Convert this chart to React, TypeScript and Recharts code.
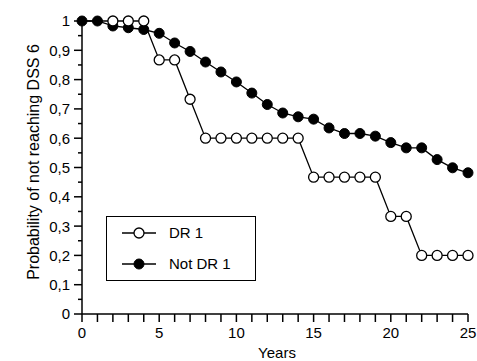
import { LineChart, Line, XAxis, YAxis, Legend } from 'recharts';

const years = [0, 1, 2, 3, 4, 5, 6, 7, 8, 9, 10, 11, 12, 13, 14, 15, 16, 17, 18, 19, 20, 21, 22, 23, 24, 25];
const dr1 = [1, 1, 1, 1, 1, 0.867, 0.867, 0.733, 0.6, 0.6, 0.6, 0.6, 0.6, 0.6, 0.6, 0.467, 0.467, 0.467, 0.467, 0.467, 0.333, 0.333, 0.2, 0.2, 0.2, 0.2];
const notDr1 = [1, 1, 0.983, 0.977, 0.971, 0.958, 0.925, 0.896, 0.86, 0.826, 0.792, 0.754, 0.715, 0.686, 0.673, 0.665, 0.635, 0.616, 0.616, 0.607, 0.585, 0.567, 0.567, 0.527, 0.499, 0.482];
const yTicks = [0, 0.05, 0.1, 0.15, 0.2, 0.25, 0.3, 0.35, 0.4, 0.45, 0.5, 0.55, 0.6, 0.65, 0.7, 0.75, 0.8, 0.85, 0.9, 0.95, 1];
const yLabels = ['0', '0,1', '0,2', '0,3', '0,4', '0,5', '0,6', '0,7', '0,8', '0,9', '1'];

const FONT = '"Liberation Sans", Arial, sans-serif';

const data = years.map((year, i) => ({ year, dr1: dr1[i], notDr1: notDr1[i] }));

function XTick(props: any) {
  const { x, y, payload } = props;
  const v = payload.value;
  return (
    <g>
      <line x1={x} x2={x} y1={y} y2={y + 8} stroke="#000" strokeWidth={1.5} />
      {v % 5 === 0 && (
        <text x={x} y={y + 24} textAnchor="middle" fontSize={15} fontFamily={FONT} fill="#000">
          {v}
        </text>
      )}
    </g>
  );
}

function YTick(props: any) {
  const { x, y, payload } = props;
  const idx = Math.round(payload.value * 20);
  const major = idx % 2 === 0;
  return (
    <g>
      <line x1={x - (major ? 8 : 4)} x2={x} y1={y} y2={y} stroke="#000" strokeWidth={1.5} />
      {major && (
        <text x={x - 12} y={y} dy="0.36em" textAnchor="end" fontSize={15} fontFamily={FONT} fill="#000">
          {yLabels[idx / 2]}
        </text>
      )}
    </g>
  );
}

// first two open circles sit under the filled ones in the original
function OpenDot(props: any) {
  const { cx, cy, index } = props;
  if (index < 2) return <g key={`o${index}`} />;
  return <circle key={`o${index}`} cx={cx} cy={cy} r={5} fill="#fff" stroke="#000" strokeWidth={1.3} />;
}

function LegendBox() {
  return (
    <div style={{ width: 150, height: 65, border: '1.5px solid #000', boxSizing: 'border-box', background: '#fff' }}>
      <svg width={147} height={62} style={{ display: 'block' }}>
        <line x1={15} x2={49} y1={16} y2={16} stroke="#000" strokeWidth={1.3} />
        <circle cx={32} cy={16} r={5} fill="#fff" stroke="#000" strokeWidth={1.3} />
        <text x={62} y={16} dy="0.36em" fontSize={15} fontFamily={FONT} fill="#000">DR 1</text>
        <line x1={15} x2={49} y1={47} y2={47} stroke="#000" strokeWidth={1.3} />
        <circle cx={32} cy={47} r={5} fill="#000" stroke="#000" strokeWidth={1} />
        <text x={62} y={47} dy="0.36em" fontSize={15} fontFamily={FONT} fill="#000">Not DR 1</text>
      </svg>
    </div>
  );
}

export default function App() {
  return (
    <div style={{ position: 'absolute', left: 0, top: 0, background: '#fff' }}>
      <LineChart width={477} height={361} data={data} margin={{ top: 21, right: 9, bottom: 0, left: 0 }}>
        <XAxis
          dataKey="year"
          type="number"
          domain={[0, 25]}
          ticks={years}
          interval={0}
          height={47}
          tickSize={0}
          tickMargin={0}
          tickLine={false}
          axisLine={{ stroke: '#000', strokeWidth: 1.5 }}
          tick={<XTick />}
          label={{
            content: () => (
              <text x={277} y={358} textAnchor="middle" fontSize={15} fontFamily={FONT} fill="#000">
                Years
              </text>
            ),
          }}
        />
        <YAxis
          type="number"
          domain={[0, 1]}
          ticks={yTicks}
          interval={0}
          width={82}
          tickSize={0}
          tickMargin={0}
          tickLine={false}
          axisLine={{ stroke: '#000', strokeWidth: 1.5 }}
          tick={<YTick />}
          label={{
            content: () => (
              <text
                x={39}
                y={162}
                transform="rotate(-90, 39, 162)"
                textAnchor="middle"
                fontSize={16}
                fontFamily={FONT}
                fill="#000"
              >
                Probability of not reaching DSS 6
              </text>
            ),
          }}
        />
        <Legend
          layout="horizontal"
          verticalAlign="middle"
          align="center"
          content={() => <LegendBox />}
          wrapperStyle={{ left: 106, top: 216, width: 150, height: 65 }}
        />
        <Line
          dataKey="notDr1"
          stroke="#000"
          strokeWidth={1.3}
          dot={{ r: 5, fill: '#000', stroke: '#000', strokeWidth: 1 }}
          isAnimationActive={false}
        />
        <Line
          dataKey="dr1"
          stroke="#000"
          strokeWidth={1.3}
          dot={OpenDot}
          isAnimationActive={false}
        />
      </LineChart>
    </div>
  );
}
